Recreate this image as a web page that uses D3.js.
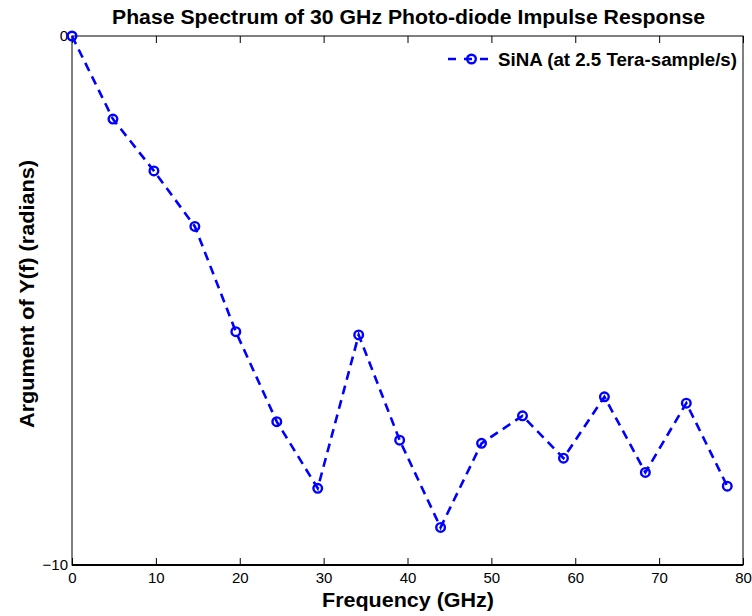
<!DOCTYPE html>
<html><head><meta charset="utf-8">
<script src="https://cdn.jsdelivr.net/npm/d3@7"></script>
<style>html,body{margin:0;padding:0;background:#fff;} svg{display:block;font-family:"Liberation Sans",Arial,Helvetica,sans-serif;}</style>
</head><body>
<div id="chart"></div>
<script>
// Data
const freqGHz = [0, 4.883, 9.766, 14.648, 19.531, 24.414, 29.297, 34.180, 39.063, 43.945, 48.828, 53.711, 58.594, 63.477, 68.359, 73.242, 78.125];
const phaseRad = [0, -1.57, -2.55, -3.60, -5.59, -7.29, -8.55, -5.65, -7.64, -9.29, -7.70, -7.18, -7.98, -6.82, -8.25, -6.94, -8.51];
const xTicks = [0, 10, 20, 30, 40, 50, 60, 70, 80];
const yTicks = [-10, 0];
const seriesName = "SiNA (at 2.5 Tera-sample/s)";
const titleText = "Phase Spectrum of 30 GHz Photo-diode Impulse Response";
const xLabel = "Frequency (GHz)";
const yLabel = "Argument of Y(f) (radians)";

const W = 752, H = 616;
const m = {left: 72, right: 9, top: 36, bottom: 51};
const svg = d3.select("#chart").append("svg").attr("width", W).attr("height", H);
const x = d3.scaleLinear().domain([0, 80]).range([m.left, W - m.right]);
const y = d3.scaleLinear().domain([-10, 0]).range([H - m.bottom, m.top]);
const blue = "#0000ff";

// frame
const g = svg.append("g");
g.append("rect").attr("x", x(0)).attr("y", y(0)).attr("width", x(80) - x(0)).attr("height", y(-10) - y(0))
  .attr("fill", "none").attr("stroke", "#000").attr("stroke-width", 1);
g.append("line").attr("x1", x(0)).attr("x2", x(80)).attr("y1", y(-10)).attr("y2", y(-10))
  .attr("stroke", "#000").attr("stroke-width", 2);

// axes via d3 axis (ticks inward)
const xAxisB = d3.axisBottom(x).tickValues(xTicks).tickSizeInner(-7).tickSizeOuter(0).tickPadding(13).tickFormat(d3.format("d"));
const xAxisT = d3.axisTop(x).tickValues(xTicks).tickSizeInner(-7).tickSizeOuter(0).tickFormat("");
const yAxisL = d3.axisLeft(y).tickValues(yTicks).tickSizeInner(-7).tickSizeOuter(0).tickPadding(4).tickFormat(d => d < 0 ? "\u2212" + Math.abs(d) : d);

const gb = svg.append("g").attr("transform", `translate(0,${y(-10)})`).call(xAxisB);
const gt = svg.append("g").attr("transform", `translate(0,${y(0)})`).call(xAxisT);
const gl = svg.append("g").attr("transform", `translate(${x(0)},0)`).call(yAxisL);
[gb, gt, gl].forEach(a => {
  a.select(".domain").remove();
  a.selectAll("line").attr("stroke", "#000");
  a.selectAll("text").attr("fill", "#000").style("font-size", "15px").style("font-family", '"Liberation Sans",Arial,sans-serif');
});
gb.selectAll(".tick text").attr("dy", "0.35em");
gl.selectAll(".tick").filter(d => d === 0 || d === -10).select("line").remove();

// line
const line = d3.line().x((d, i) => x(freqGHz[i])).y(d => y(d));
svg.append("path").datum(phaseRad).attr("d", line).attr("fill", "none")
  .attr("stroke", blue).attr("stroke-width", 2.6).attr("stroke-dasharray", "9,6");
svg.append("g").selectAll("circle").data(phaseRad).join("circle")
  .attr("cx", (d, i) => x(freqGHz[i])).attr("cy", d => y(d)).attr("r", 4.3)
  .attr("fill", "none").attr("stroke", blue).attr("stroke-width", 2.4);

// legend
const lg = svg.append("g");
lg.append("line").attr("x1", 448).attr("x2", 495).attr("y1", 59).attr("y2", 59)
  .attr("stroke", blue).attr("stroke-width", 2.6).attr("stroke-dasharray", "8,8");
lg.append("circle").attr("cx", 471.5).attr("cy", 59).attr("r", 4.3).attr("fill", "none").attr("stroke", blue).attr("stroke-width", 2.4);
lg.append("text").attr("x", 498).attr("y", 66).text(seriesName)
  .attr("textLength", 239).attr("lengthAdjust", "spacingAndGlyphs")
  .style("font-size", "18px").style("font-weight", "bold");

// title & labels
svg.append("text").attr("x", 408.5).attr("y", 24).attr("text-anchor", "middle").text(titleText)
  .attr("textLength", 593).attr("lengthAdjust", "spacingAndGlyphs")
  .style("font-size", "19.5px").style("font-weight", "bold");
svg.append("text").attr("x", 408).attr("y", 607).attr("text-anchor", "middle").text(xLabel)
  .attr("textLength", 172).attr("lengthAdjust", "spacingAndGlyphs")
  .style("font-size", "20px").style("font-weight", "bold");
svg.append("text").attr("transform", "translate(34,294) rotate(-90)").attr("text-anchor", "middle").text(yLabel)
  .attr("textLength", 268).attr("lengthAdjust", "spacingAndGlyphs")
  .style("font-size", "20px").style("font-weight", "bold");
</script>
</body></html>
